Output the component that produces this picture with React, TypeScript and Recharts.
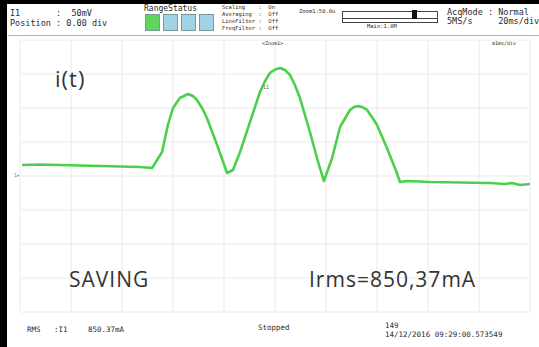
import React from 'react'
import { LineChart, Line, XAxis, YAxis, CartesianGrid } from 'recharts'

// captured trace, time in ms (20 ms/div) and amplitude in mV (50 mV/div)
const timeMs = [
  0.8, 7.8, 15.7, 23.5, 31.4, 39.2, 47.1, 51.8, 55.7, 58.0, 60.0, 61.6, 62.7,
  64.3, 65.9, 67.8, 69.4, 71.4, 73.3, 77.3, 81.2, 83.5, 86.3, 90.2, 94.1, 96.1,
  98.0, 100.0, 102.0, 103.9, 105.9, 107.8, 109.8, 113.7, 116.9, 119.2, 122.4,
  125.5, 129.4, 131.0, 132.5, 134.1, 136.1, 138.0, 140.0, 143.9, 147.8, 149.0,
  151.8, 160.8, 172.5, 184.3, 190.2, 192.9, 196.1, 200.0
]
const voltageMv = [
  16.2, 16.9, 16.2, 15.4, 14.7, 14.0, 13.2, 11.8, 35.3, 75.0, 100.0, 108.8, 114.7,
  117.6, 120.6, 117.6, 111.8, 100.0, 85.3, 45.6, 4.4, 8.8, 35.3, 79.4, 123.5, 139.7,
  151.5, 156.6, 158.8, 155.9, 148.5, 133.8, 114.7, 64.7, 20.6, -7.4, 26.5,
  72.1, 97.1, 101.5, 102.9, 101.5, 97.1, 86.8, 75.0, 41.2, 4.4, -8.8,
  -7.4, -8.8, -9.6, -10.3, -11.8, -10.3, -13.2, -11.8
]
const timeTicks = [0, 20, 40, 60, 80, 100, 120, 140, 160, 180, 200]
const voltTicks = [-200, -150, -100, -50, 0, 50, 100, 150, 200]

const trace = timeMs.map((t, i) => ({ t, v: voltageMv[i] }))

const mono = '"DejaVu Sans Mono", monospace'
const label = '"Open Sans", "Lato", sans-serif'

const txt = (left: number, top: number, size: number, text: string, extra: React.CSSProperties = {}) => (
  <div
    style={{
      position: 'absolute',
      left,
      top,
      fontSize: size,
      lineHeight: 1,
      whiteSpace: 'pre',
      color: '#2a2a2a',
      fontFamily: mono,
      ...extra
    }}
  >
    {text}
  </div>
)

function Header() {
  const boxes = ['#5ed65e', '#9fd3e6', '#9fd3e6', '#9fd3e6']
  return (
    <>
      {txt(10, 9, 8.5, 'I1       :  50mV')}
      {txt(10, 19, 8.5, 'Position : 0.00 div')}
      {txt(144, 5, 8, 'RangeStatus')}
      {boxes.map((c, i) => (
        <div
          key={i}
          style={{
            position: 'absolute',
            left: 145 + i * 18,
            top: 14,
            width: 15,
            height: 17,
            background: c,
            border: '1px solid #7a9a9a',
            boxSizing: 'border-box'
          }}
        />
      ))}
      {txt(222, 5, 5.5, 'Scaling    :  On')}
      {txt(222, 12, 5.5, 'Averaging  :  Off')}
      {txt(222, 19, 5.5, 'LineFilter :  Off')}
      {txt(222, 26, 5.5, 'FreqFilter :  Off')}
      {txt(299, 9, 5.5, 'Zoom1:50.0u')}
      <div style={{ position: 'absolute', left: 342, top: 11, width: 96, height: 8, border: '1px solid #444', boxSizing: 'border-box' }} />
      <div style={{ position: 'absolute', left: 412, top: 10, width: 5, height: 9, background: '#111' }} />
      <div style={{ position: 'absolute', left: 342, top: 19, width: 96, height: 4, borderLeft: '1px solid #444', borderRight: '1px solid #444', borderBottom: '1px solid #444', boxSizing: 'border-box' }} />
      {txt(367, 24, 5.5, 'Main:1.0M')}
      {txt(447, 8, 8.5, 'AcqMode : Normal')}
      {txt(447, 17, 8.5, '5MS/s     20ms/div')}
      <div style={{ position: 'absolute', left: 8, top: 35, width: 531, height: 1, background: '#b0b0b0' }} />
    </>
  )
}

function Footer() {
  return (
    <>
      {txt(27, 326, 7.5, 'RMS   :I1')}
      {txt(88, 326, 7.5, '850.37mA')}
      {txt(258, 324, 7.5, 'Stopped')}
      {txt(385, 322, 7.5, '149')}
      {txt(385, 331, 7.5, '14/12/2016 09:29:00.573549')}
    </>
  )
}

export default function App() {
  return (
    <div style={{ position: 'absolute', left: 0, top: 0, width: 539, height: 347, background: '#fff', overflow: 'hidden' }}>
      <LineChart
        width={539}
        height={347}
        data={trace}
        margin={{ top: 40, right: 9, bottom: 35, left: 20 }}
      >
        <CartesianGrid stroke="#eaeaea" strokeWidth={1} />
        <XAxis dataKey="t" type="number" domain={[0, 200]} ticks={timeTicks} hide />
        <YAxis type="number" domain={[-200, 200]} ticks={voltTicks} hide />
        <Line
          type="linear"
          dataKey="v"
          stroke="#46d846"
          strokeWidth={2.6}
          strokeLinejoin="round"
          dot={false}
          isAnimationActive={false}
        />
        <Line
          type="linear"
          dataKey="v"
          stroke="#6f9f6f"
          strokeWidth={0.7}
          strokeOpacity={0.5}
          dot={false}
          isAnimationActive={false}
        />
      </LineChart>

      <div style={{ position: 'absolute', left: 0, top: 0, width: 7, height: 347, background: '#000' }} />
      <div style={{ position: 'absolute', left: 0, top: 0, width: 539, height: 4, background: '#000' }} />

      <Header />
      {txt(262, 41, 5, '<Zoom1>')}
      {txt(492, 41, 5, '≡1ms/div')}
      {txt(14, 173, 5, '1▸', { color: '#777' })}
      {txt(263, 85, 5, '11', { color: '#555' })}

      {txt(55, 67, 22, 'i(t)', { fontFamily: label, color: '#333', letterSpacing: 1 })}
      {txt(69, 269, 21, 'SAVING', { fontFamily: label, color: '#333', letterSpacing: 1 })}
      {txt(309, 269, 21, 'Irms=850,37mA', { fontFamily: label, color: '#333', letterSpacing: 1 })}

      <Footer />
    </div>
  )
}
